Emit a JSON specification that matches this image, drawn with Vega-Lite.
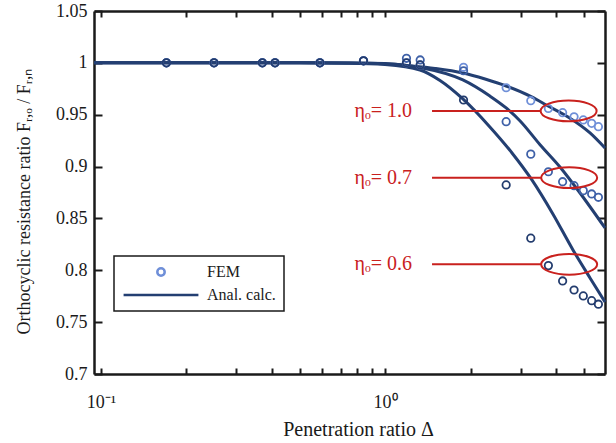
{
  "$schema": "https://vega.github.io/schema/vega-lite/v6.json",
  "width": 511,
  "height": 363,
  "autosize": "none",
  "padding": {"left": 94, "top": 11, "right": 11, "bottom": 69},
  "background": "white",
  "config": {
    "view": {"stroke": null},
    "font": "Liberation Serif",
    "axis": {
      "grid": false,
      "domainColor": "#1a1a1a",
      "domainWidth": 2.5,
      "tickColor": "#1a1a1a",
      "tickWidth": 2,
      "labelFont": "Liberation Serif",
      "labelFontSize": 18,
      "labelColor": "#1a1a1a",
      "titleFont": "Liberation Serif",
      "titleFontSize": 18,
      "titleFontWeight": "normal",
      "titleColor": "#1a1a1a"
    },
    "legend": {
      "orient": "none",
      "legendX": 20,
      "legendY": 245,
      "direction": "vertical",
      "padding": 8,
      "strokeColor": "#1a1a1a",
      "strokeWidth": 1.5,
      "fillColor": "white",
      "labelFont": "Liberation Serif",
      "labelFontSize": 16,
      "labelColor": "#1a1a1a",
      "labelOffset": 7,
      "rowPadding": 7,
      "clipHeight": 16,
      "symbolStrokeWidth": 2.5,
      "symbolOpacity": 1
    }
  },
  "datasets": {
    "fem": [
      {"eta": "1.0", "D": 0.17, "R": 1.0}, {"eta": "1.0", "D": 0.25, "R": 1.0}, {"eta": "1.0", "D": 0.37, "R": 1.0}, {"eta": "1.0", "D": 0.41, "R": 1.0}, {"eta": "1.0", "D": 0.59, "R": 1.0}, {"eta": "1.0", "D": 0.84, "R": 1.002},
      {"eta": "1.0", "D": 1.19, "R": 1.0}, {"eta": "1.0", "D": 1.33, "R": 0.998}, {"eta": "1.0", "D": 1.89, "R": 0.9957}, {"eta": "1.0", "D": 2.67, "R": 0.976}, {"eta": "1.0", "D": 3.26, "R": 0.9635}, {"eta": "1.0", "D": 3.76, "R": 0.956}, {"eta": "1.0", "D": 4.22, "R": 0.952}, {"eta": "1.0", "D": 4.63, "R": 0.948}, {"eta": "1.0", "D": 4.99, "R": 0.945}, {"eta": "1.0", "D": 5.34, "R": 0.9417}, {"eta": "1.0", "D": 5.64, "R": 0.9385},
      {"eta": "0.7", "D": 0.17, "R": 1.0}, {"eta": "0.7", "D": 0.25, "R": 1.0}, {"eta": "0.7", "D": 0.37, "R": 1.0}, {"eta": "0.7", "D": 0.41, "R": 1.0}, {"eta": "0.7", "D": 0.59, "R": 1.0}, {"eta": "0.7", "D": 0.84, "R": 1.002},
      {"eta": "0.7", "D": 1.19, "R": 1.0044}, {"eta": "0.7", "D": 1.33, "R": 1.0028}, {"eta": "0.7", "D": 1.89, "R": 0.9924}, {"eta": "0.7", "D": 2.67, "R": 0.9433}, {"eta": "0.7", "D": 3.26, "R": 0.912}, {"eta": "0.7", "D": 3.76, "R": 0.895}, {"eta": "0.7", "D": 4.22, "R": 0.8854}, {"eta": "0.7", "D": 4.63, "R": 0.8816}, {"eta": "0.7", "D": 4.99, "R": 0.8768}, {"eta": "0.7", "D": 5.34, "R": 0.8736}, {"eta": "0.7", "D": 5.64, "R": 0.8704},
      {"eta": "0.6", "D": 0.17, "R": 1.0}, {"eta": "0.6", "D": 0.25, "R": 1.0}, {"eta": "0.6", "D": 0.37, "R": 1.0}, {"eta": "0.6", "D": 0.41, "R": 1.0}, {"eta": "0.6", "D": 0.59, "R": 1.0}, {"eta": "0.6", "D": 0.84, "R": 1.002},
      {"eta": "0.6", "D": 1.19, "R": 1.0}, {"eta": "0.6", "D": 1.33, "R": 0.998}, {"eta": "0.6", "D": 1.89, "R": 0.9642}, {"eta": "0.6", "D": 2.67, "R": 0.8823}, {"eta": "0.6", "D": 3.26, "R": 0.831}, {"eta": "0.6", "D": 3.76, "R": 0.8045}, {"eta": "0.6", "D": 4.22, "R": 0.7897}, {"eta": "0.6", "D": 4.63, "R": 0.781}, {"eta": "0.6", "D": 4.99, "R": 0.7753}, {"eta": "0.6", "D": 5.34, "R": 0.7707}, {"eta": "0.6", "D": 5.64, "R": 0.7673}
    ],
    "calc": [
      {"eta": "1.0", "D": 0.0945, "R": 1.0}, {"eta": "1.0", "D": 0.3, "R": 1.0}, {"eta": "1.0", "D": 0.5, "R": 1.0}, {"eta": "1.0", "D": 0.75, "R": 0.9999}, {"eta": "1.0", "D": 1.0, "R": 0.9994}, {"eta": "1.0", "D": 1.192, "R": 0.9975}, {"eta": "1.0", "D": 1.5, "R": 0.9946}, {"eta": "1.0", "D": 1.88, "R": 0.9902}, {"eta": "1.0", "D": 2.25, "R": 0.9844}, {"eta": "1.0", "D": 2.67, "R": 0.9777}, {"eta": "1.0", "D": 3.27, "R": 0.9674}, {"eta": "1.0", "D": 3.75, "R": 0.9584}, {"eta": "1.0", "D": 4.41, "R": 0.9478}, {"eta": "1.0", "D": 5.27, "R": 0.9324}, {"eta": "1.0", "D": 5.95, "R": 0.9179},
      {"eta": "0.7", "D": 0.0945, "R": 1.0}, {"eta": "0.7", "D": 0.3, "R": 1.0}, {"eta": "0.7", "D": 0.5, "R": 1.0}, {"eta": "0.7", "D": 0.75, "R": 0.9998}, {"eta": "0.7", "D": 1.0, "R": 0.9991}, {"eta": "0.7", "D": 1.328, "R": 0.9955}, {"eta": "0.7", "D": 1.88, "R": 0.9835}, {"eta": "0.7", "D": 2.34, "R": 0.968}, {"eta": "0.7", "D": 2.67, "R": 0.9565}, {"eta": "0.7", "D": 2.99, "R": 0.944}, {"eta": "0.7", "D": 3.52, "R": 0.9208}, {"eta": "0.7", "D": 4.13, "R": 0.8996}, {"eta": "0.7", "D": 4.86, "R": 0.8745}, {"eta": "0.7", "D": 5.95, "R": 0.8408},
      {"eta": "0.6", "D": 0.0945, "R": 1.0}, {"eta": "0.6", "D": 0.3, "R": 1.0}, {"eta": "0.6", "D": 0.5, "R": 1.0}, {"eta": "0.6", "D": 0.75, "R": 0.9997}, {"eta": "0.6", "D": 1.0, "R": 0.9984}, {"eta": "0.6", "D": 1.328, "R": 0.9931}, {"eta": "0.6", "D": 1.562, "R": 0.983}, {"eta": "0.6", "D": 1.88, "R": 0.9652}, {"eta": "0.6", "D": 2.34, "R": 0.9382}, {"eta": "0.6", "D": 2.8, "R": 0.9131}, {"eta": "0.6", "D": 3.29, "R": 0.8871}, {"eta": "0.6", "D": 3.9, "R": 0.8543}, {"eta": "0.6", "D": 4.59, "R": 0.8196}, {"eta": "0.6", "D": 5.27, "R": 0.7926}, {"eta": "0.6", "D": 5.95, "R": 0.7694}
    ],
    "notes": [
      {"label": "ηₒ= 1.0", "R": 0.9536, "Dtext": 1.245, "D0": 1.464, "D1": 3.54, "Dell": 4.43},
      {"label": "ηₒ= 0.7", "R": 0.8893, "Dtext": 1.245, "D0": 1.464, "D1": 3.54, "Dell": 4.45},
      {"label": "ηₒ= 0.6", "R": 0.8058, "Dtext": 1.245, "D0": 1.464, "D1": 3.54, "Dell": 4.45}
    ]
  },
  "layer": [
    {
      "data": {"name": "calc"},
      "mark": {"type": "line", "strokeWidth": 3, "interpolate": "monotone"},
      "encoding": {
        "x": {
          "field": "D", "type": "quantitative",
          "scale": {"type": "log", "domain": [0.0945, 5.95], "nice": false},
          "axis": {
            "orient": "bottom",
            "values": [0.1, 0.2, 0.3, 0.4, 0.5, 0.6, 0.7, 0.8, 0.9, 1, 2, 3, 4, 5],
            "labelExpr": "datum.value === 0.1 ? '10⁻¹' : (datum.value === 1 ? '10⁰' : '')",
            "labelOverlap": false,
            "labelFlush": false,
            "tickSize": -6,
            "labelPadding": 25,
            "title": "Penetration ratio Δ",
            "titleFontSize": 20,
            "titleX": 264,
            "titleY": 61,
            "titleBaseline": "alphabetic"
          }
        },
        "y": {
          "field": "R", "type": "quantitative",
          "scale": {"domain": [0.7, 1.05], "nice": false, "zero": false},
          "axis": {
            "orient": "left",
            "values": [0.7, 0.75, 0.8, 0.85, 0.9, 0.95, 1, 1.05],
            "format": ".2~f",
            "tickSize": -8,
            "labelPadding": 15,
            "title": "Orthocyclic resistance ratio  Fᵣ,ₒ / Fᵣ,ₙ",
            "titleX": -70,
            "titleY": 190,
            "titleAngle": -90,
            "titleAlign": "center",
            "titleBaseline": "middle"
          }
        },
        "detail": {"field": "eta"},
        "color": {
          "datum": "Anal. calc.",
          "scale": {"domain": ["FEM", "Anal. calc."], "range": ["#6f8fd8", "#233f72"]},
          "legend": {"title": null}
        }
      }
    },
    {
      "data": {"name": "fem"},
      "mark": {"type": "point", "filled": false, "strokeWidth": 1.8, "opacity": 1},
      "encoding": {
        "x": {
          "field": "D", "type": "quantitative",
          "axis": {
            "orient": "top",
            "values": [0.1, 0.2, 0.3, 0.4, 0.5, 0.6, 0.7, 0.8, 0.9, 1, 2, 3, 4, 5],
            "labels": false,
            "tickSize": -6,
            "title": null
          }
        },
        "y": {
          "field": "R", "type": "quantitative",
          "axis": {
            "orient": "right",
            "values": [0.7, 0.75, 0.8, 0.85, 0.9, 0.95, 1, 1.05],
            "labels": false,
            "tickSize": -8,
            "title": null
          }
        },
        "stroke": {
          "field": "eta", "type": "nominal",
          "scale": {"domain": ["1.0", "0.7", "0.6"], "range": ["#6f8fd8", "#3f61a8", "#233c6e"]},
          "legend": null
        },
        "shape": {
          "datum": "FEM",
          "scale": {"domain": ["FEM", "Anal. calc."], "range": ["circle", "stroke"]},
          "legend": {"title": null}
        },
        "size": {
          "datum": "FEM",
          "type": "nominal",
          "scale": {"type": "ordinal", "domain": ["FEM", "Anal. calc."], "range": [55, 5600]},
          "legend": {"title": null}
        }
      }
    },
    {
      "data": {"name": "notes"},
      "mark": {"type": "rule", "color": "#c9211e", "strokeWidth": 2},
      "encoding": {
        "x": {"field": "D0", "type": "quantitative", "axis": null},
        "x2": {"field": "D1"},
        "y": {"field": "R", "type": "quantitative", "axis": null}
      }
    },
    {
      "data": {"name": "notes"},
      "mark": {
        "type": "point", "filled": false, "stroke": "#c9211e", "strokeWidth": 2, "opacity": 1, "size": 3136,
        "shape": "M -1 0 C -1 -0.2044 -0.5523 -0.37 0 -0.37 C 0.5523 -0.37 1 -0.2044 1 0 C 1 0.2044 0.5523 0.37 0 0.37 C -0.5523 0.37 -1 0.2044 -1 0 Z"
      },
      "encoding": {
        "x": {"field": "Dell", "type": "quantitative", "axis": null},
        "y": {"field": "R", "type": "quantitative", "axis": null}
      }
    },
    {
      "data": {"name": "notes"},
      "mark": {"type": "text", "color": "#c9211e", "font": "Liberation Serif", "fontSize": 20, "align": "right", "baseline": "middle"},
      "encoding": {
        "x": {"field": "Dtext", "type": "quantitative", "axis": null},
        "y": {"field": "R", "type": "quantitative", "axis": null},
        "text": {"field": "label"}
      }
    }
  ]
}
